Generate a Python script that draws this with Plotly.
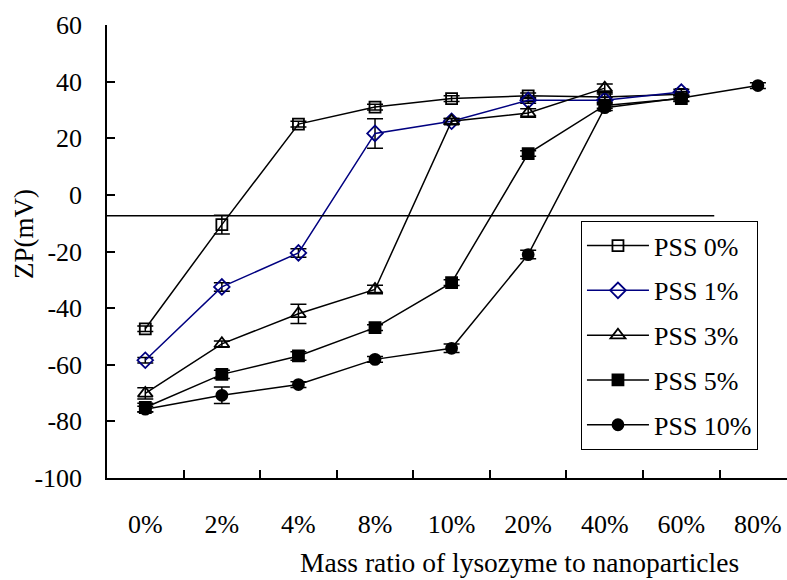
import plotly.graph_objects as go

# Lysozyme : nanoparticle mass ratios (x categories)
ratios = ["0%", "2%", "4%", "8%", "10%", "20%", "40%", "60%", "80%"]

# Zeta potential (mV) for each PSS content, with standard deviations
pss0 = [-47.3, -10.5, 25.0, 31.0, 34.0, 35.0, 34.6, 35.5]
pss0_sd = [1.0, 3.3, 1.0, 1.0, 1.0, 1.0, 1.0, 1.0]

pss1 = [-58.4, -32.5, -20.5, 21.7, 26.0, 33.4, 33.4, 36.3]
pss1_sd = [1.0, 1.5, 1.5, 5.2, 1.0, 1.0, 1.0, 1.0]

pss3 = [-70.1, -52.6, -42.0, -33.4, 26.0, 28.9, 37.7]
pss3_sd = [2.0, 1.0, 3.4, 1.5, 1.0, 1.5, 1.5]

pss5 = [-75.1, -63.4, -56.9, -46.9, -31.0, 14.6, 31.6, 34.0]
pss5_sd = [1.5, 1.5, 1.5, 1.0, 1.0, 1.0, 1.0, 1.0]

pss10 = [-75.7, -70.8, -67.0, -58.1, -54.2, -21.1, 30.8, 34.2, 38.6]
pss10_sd = [1.0, 2.9, 1.0, 1.0, 1.5, 1.5, 1.0, 1.0, 1.0]

names = ["PSS 0%", "PSS 1%", "PSS 3%", "PSS 5%", "PSS 10%"]
series = [pss0, pss1, pss3, pss5, pss10]
errors = [pss0_sd, pss1_sd, pss3_sd, pss5_sd, pss10_sd]

# y ticks, labelled with a plain hyphen for negatives
y_ticks = [-100, -80, -60, -40, -20, 0, 20, 40, 60]
y_tick_text = ["-100", "-80", "-60", "-40", "-20", "0", "20", "40", "60"]

# Reference level across the chart (mV)
ref_level = -7.4

FONT = "Liberation Serif"
NAVY = "#000080"

styles = [
    dict(color="black", symbol="square-open", size=11),
    dict(color=NAVY, symbol="diamond-open", size=12),
    dict(color="black", symbol="triangle-up-open", size=13),
    dict(color="black", symbol="square", size=11),
    dict(color="black", symbol="circle", size=11),
]

fig = go.Figure()
for i, (name, ys, sd, st) in enumerate(zip(names, series, errors, styles)):
    fig.add_trace(go.Scatter(
        x=ratios[:len(ys)], y=ys, name=name, mode="lines+markers",
        legendgroup=f"g{i}",
        line=dict(color=st["color"], width=1.5),
        marker=dict(symbol=st["symbol"], size=st["size"], color=st["color"],
                    line=dict(color=st["color"], width=1.8)),
        error_y=dict(type="data", array=sd, visible=True, color="black",
                     thickness=1.5, width=8),
    ))

fig.add_shape(type="line", xref="x", yref="y", x0=-0.5, x1=7.43,
              y0=ref_level, y1=ref_level, line=dict(color="black", width=1.5))

fig.add_annotation(text="Mass ratio of lysozyme to nanoparticles",
                   xref="paper", yref="paper", x=0.607, y=-0.2245,
                   xanchor="center", yanchor="bottom", showarrow=False,
                   font=dict(family=FONT, size=27.5, color="#000000"))
fig.add_annotation(text="ZP(mV)", textangle=-90,
                   xref="paper", yref="paper", x=-0.122, y=(478 - 234) / 453,
                   xanchor="center", yanchor="middle", showarrow=False,
                   font=dict(family=FONT, size=27, color="#000000"))

fig.update_layout(
    width=787, height=580,
    margin=dict(l=107, r=0, t=25, b=102),
    plot_bgcolor="white", paper_bgcolor="white",
    font=dict(family=FONT, size=26, color="black"),
    showlegend=True,
    legend=dict(x=0.697, y=0.567, xanchor="left", yanchor="top",
                bgcolor="white", bordercolor="black", borderwidth=1,
                font=dict(family=FONT, size=26, color="black"),
                tracegroupgap=8, itemwidth=62),
    xaxis=dict(type="category", range=[-0.5, 8.38], showline=True,
               linecolor="black", linewidth=1.5, ticks="inside", ticklen=8,
               tickwidth=1.5, tickcolor="black", tickson="boundaries",
               showgrid=False, zeroline=False, ticklabelstandoff=22,
               tickfont=dict(family=FONT, size=26)),
    yaxis=dict(range=[-100, 60], tickvals=y_ticks, ticktext=y_tick_text,
               showline=True, linecolor="black",
               linewidth=1.5, ticks="inside", ticklen=8, tickwidth=1.5,
               tickcolor="black", showgrid=False, zeroline=False,
               ticklabelstandoff=18, tickfont=dict(family=FONT, size=26)),
)

fig.write_html("out.html")
